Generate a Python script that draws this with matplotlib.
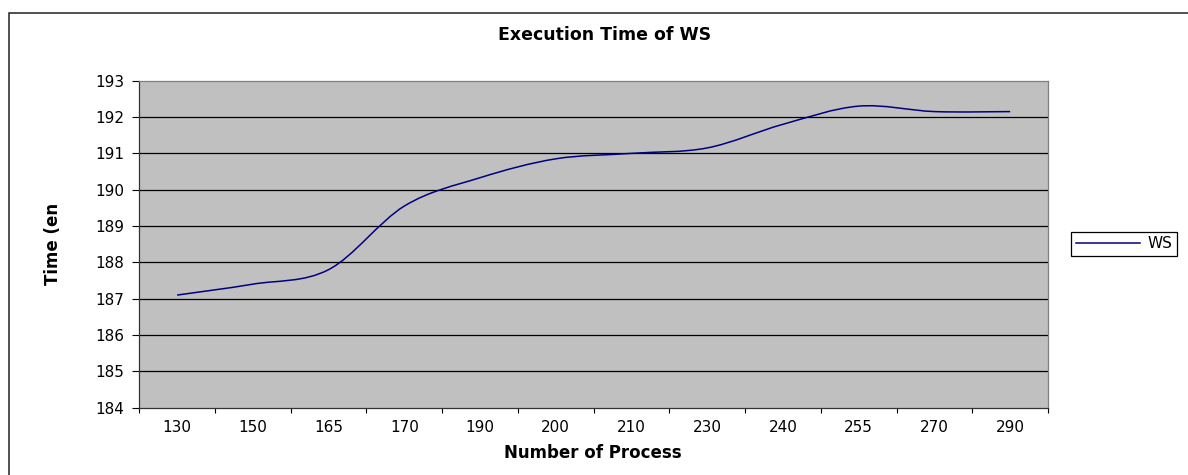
import matplotlib
matplotlib.use("Agg")
import matplotlib.pyplot as plt
from matplotlib.path import Path
from matplotlib.patches import PathPatch, Rectangle
from matplotlib.lines import Line2D
import numpy as np

# data
processes = ['130', '150', '165', '170', '190', '200', '210', '230', '240', '255', '270', '290']
ws_time = [187.1, 187.4, 187.8, 189.55, 190.33, 190.85, 191.0, 191.15, 191.8, 192.3, 192.15, 192.15]
y_ticks = [184, 185, 186, 187, 188, 189, 190, 191, 192, 193]

line_color = '#000080'
plot_bg = '#c0c0c0'

plt.rcParams['font.family'] = ['DejaVu Sans']

W, H = 1188, 475
fig = plt.figure(figsize=(W / 100, H / 100), dpi=100)

# outer chart border (Excel chart area)
fig.patches.append(Rectangle((8.5 / W, -0.1), 1.2, 1 - 13.5 / H + 0.1,
                             transform=fig.transFigure, fill=False,
                             edgecolor='#222222', linewidth=1.1))

left, right = 139.3 / W, 1048 / W
bottom, top = 1 - 407.7 / H, 1 - 80.7 / H
ax = fig.add_axes([left, bottom, right - left, top - bottom])
ax.set_facecolor(plot_bg)

n = len(ws_time)
xs = np.arange(n)
ax.set_xlim(-0.5, n - 0.5)
ax.set_ylim(184, 193)

# smoothed line like Excel (catmull-rom through the data points)
pts = np.column_stack([xs, ws_time]).astype(float)
verts = [pts[0]]
codes = [Path.MOVETO]
for i in range(n - 1):
    p_prev = pts[i - 1] if i > 0 else pts[i]
    p_next2 = pts[i + 2] if i + 2 < n else pts[i + 1]
    c1 = pts[i] + (pts[i + 1] - p_prev) / 6
    c2 = pts[i + 1] - (p_next2 - pts[i]) / 6
    verts += [c1, c2, pts[i + 1]]
    codes += [Path.CURVE4] * 3
ax.add_patch(PathPatch(Path(verts, codes), fill=False, edgecolor=line_color,
                       linewidth=1.1, zorder=3))

# grid
for v in y_ticks[1:-1]:
    ax.axhline(v, color='black', linewidth=0.9, zorder=1)

ax.set_yticks(y_ticks)
ax.tick_params(axis='y', direction='out', length=5, width=0.8, labelsize=11, pad=6)

ax.set_xticks(np.arange(n + 1) - 0.5)
ax.set_xticklabels([])
ax.set_xticks(xs, minor=True)
ax.set_xticklabels(processes, minor=True)
ax.tick_params(axis='x', which='major', direction='out', length=3.5, width=0.8)
ax.tick_params(axis='x', which='minor', length=0, labelsize=11, pad=9)

for s in ['top', 'right']:
    ax.spines[s].set_color('#808080')
    ax.spines[s].set_linewidth(0.9)
for s in ['left', 'bottom']:
    ax.spines[s].set_color('#333333')
    ax.spines[s].set_linewidth(0.9)

fig.text(605 / W, 1 - 35 / H, 'Execution Time of WS', ha='center', va='center',
         fontsize=12.5, fontweight='bold')
fig.text(593 / W, 1 - 453 / H, 'Number of Process', ha='center', va='center',
         fontsize=12, fontweight='bold')
fig.text(53 / W, 1 - 244 / H, 'Time (en', ha='center', va='center',
         rotation=90, fontsize=12, fontweight='bold')

handle = Line2D([], [], color=line_color, linewidth=1.1)
leg = fig.legend([handle], ['WS'], loc='center left',
                 bbox_to_anchor=(1071 / W, 1 - 244 / H), bbox_transform=fig.transFigure,
                 fancybox=False, framealpha=1, edgecolor='black', fontsize=11,
                 handlelength=4.2, handletextpad=0.5, borderpad=0.3, borderaxespad=0)
leg.get_frame().set_linewidth(0.9)

fig.savefig('out.png', dpi=100)
